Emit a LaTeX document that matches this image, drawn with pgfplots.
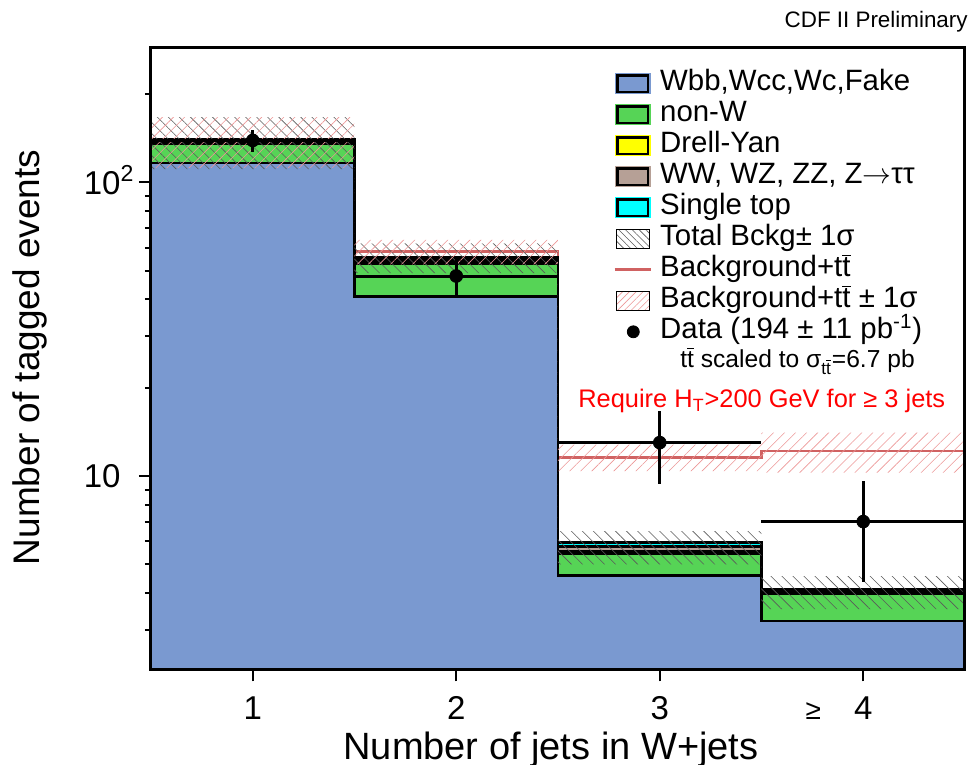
\documentclass[border=0pt]{standalone}
\usepackage{pgfplots}
\pgfplotsset{compat=1.18}
\usetikzlibrary{patterns.meta}
\usepackage{fontspec}
\setmainfont{Liberation Sans}
\definecolor{cBlue}{RGB}{122,153,208}
\definecolor{cGreen}{RGB}{86,212,86}
\definecolor{cYellow}{RGB}{255,255,0}
\definecolor{cBrown}{RGB}{182,160,150}
\definecolor{cCyan}{RGB}{0,255,255}
\definecolor{cRedLine}{RGB}{208,98,98}
\definecolor{cRedHatch}{RGB}{236,150,150}
\definecolor{cGrayHatch}{RGB}{90,90,90}
\newcommand{\tbar}{\ensuremath{\overline{\mbox{t}}}}
\pgfplotsset{
  boxleg/.style={legend image code/.code={
    \path[##1, draw=none] (-0.8pt,-5.3pt) rectangle (17.3pt,5.3pt);
    \draw[##1, line width=1.3pt] (0.6pt,-4.1pt) rectangle (15.9pt,4.1pt);}},
  hatchlegblack/.style={legend image code/.code={
    \path[pattern={Lines[angle=-45,distance=2.4pt,line width=0.3pt]}, pattern color=cGrayHatch] (0pt,-4.8pt) rectangle (16.5pt,4.8pt);
    \draw[black, line width=0.6pt] (0pt,-4.8pt) rectangle (16.5pt,4.8pt);}},
  hatchlegred/.style={legend image code/.code={
    \path[pattern={Lines[angle=45,distance=2.4pt,line width=0.3pt]}, pattern color=cRedHatch] (0pt,-4.8pt) rectangle (16.5pt,4.8pt);
    \draw[black, line width=0.6pt] (0pt,-4.8pt) rectangle (16.5pt,4.8pt);}},
  lineleg/.style={legend image code/.code={
    \draw[##1] (-0.8pt,0pt) -- (17.3pt,0pt);}},
  dotleg/.style={legend image code/.code={
    \draw[##1] plot coordinates {(8.5pt,0pt)};}},
}
\begin{document}
\begin{tikzpicture}
\begin{axis}[
  scale only axis, width=407pt, height=310.75pt,
  ymode=log, xmin=0.5, xmax=4.5, ymin=2.194, ymax=287,
  axis on top, axis line style={line width=1.5pt},
  tick align=outside, xtick pos=bottom, ytick pos=left,
  major tick length=6pt, minor tick length=3pt,
  tick style={black, line width=1pt},
  xtick={1,2,3,4},
  xticklabels={1,2,3,{\llap{{\fontsize{14}{14}\selectfont ≥}\hspace{16.5pt}}4}},
  ytick={10,100}, yticklabels={10,10\rlap{\textsuperscript{2}}},
  minor ytick={3,4,5,6,7,8,9,20,30,40,50,60,70,80,90,200},
  ticklabel style={font=\fontsize{16.5}{18}\selectfont},
  xticklabel style={anchor=north, inner sep=0pt, yshift=-7.5pt},
  yticklabel style={anchor=base east, inner sep=0pt, xshift=-9pt, yshift=-5.9pt},
  /pgf/number format/assume math mode=true,
  legend cell align=left,
  legend style={draw=none, fill=none, at={(axis description cs:0.5602,0.972)}, anchor=north west,
    font=\fontsize{14.7}{16}\selectfont, row sep=1.5pt, column sep=4pt,
    nodes={inner sep=0pt, text height=10.5pt, text depth=3.5pt}},
]
\addlegendimage{boxleg, fill=cBlue, draw=black}
\addlegendentry{Wbb,Wcc,Wc,Fake}
\addlegendimage{boxleg, fill=cGreen, draw=black}
\addlegendentry{non-W}
\addlegendimage{boxleg, fill=cYellow, draw=black}
\addlegendentry{Drell-Yan}
\addlegendimage{boxleg, fill=cBrown, draw=black}
\addlegendentry{WW, WZ, ZZ, Z\ensuremath{\rightarrow}ττ}
\addlegendimage{boxleg, fill=cCyan, draw=black}
\addlegendentry{Single top}
\addlegendimage{hatchlegblack}
\addlegendentry{Total Bckg± 1σ}
\addlegendimage{lineleg, cRedLine, line width=1.3pt}
\addlegendentry{Background+t\tbar}
\addlegendimage{hatchlegred}
\addlegendentry{Background+t\tbar\ ± 1σ}
\addlegendimage{dotleg, only marks, mark=*, mark size=3pt, black}
\addlegendentry{Data (194 ± 11 pb\textsuperscript{-1})}

% Background + ttbar (red line)
\addplot[cRedLine, line width=1.3pt, const plot, forget plot]
  coordinates {(0.5,140.8)(1.5,58.2)(2.5,11.55)(3.5,12.17)(4.5,12.17)};

% stacked backgrounds (cumulative)
\addplot[fill=cCyan, draw=black, line width=1.3pt, const plot, forget plot]
  coordinates {(0.5,1)(0.5,140.6)(1.5,55.5)(2.5,5.93)(3.5,4.11)(4.5,4.11)(4.5,1)} -- cycle;
\addplot[fill=cBrown, draw=black, line width=1.3pt, const plot, forget plot]
  coordinates {(0.5,1)(0.5,138.7)(1.5,54.4)(2.5,5.75)(3.5,4.06)(4.5,4.06)(4.5,1)} -- cycle;
\addplot[fill=cYellow, draw=black, line width=1.3pt, const plot, forget plot]
  coordinates {(0.5,1)(0.5,136.8)(1.5,53.4)(2.5,5.55)(3.5,4.01)(4.5,4.01)(4.5,1)} -- cycle;
\addplot[fill=cGreen, draw=black, line width=1.3pt, const plot, forget plot]
  coordinates {(0.5,1)(0.5,135.1)(1.5,52.7)(2.5,5.45)(3.5,3.98)(4.5,3.98)(4.5,1)} -- cycle;
\addplot[fill=cBlue, draw=black, line width=1.3pt, const plot, forget plot]
  coordinates {(0.5,1)(0.5,116.4)(1.5,40.9)(2.5,4.59)(3.5,3.21)(4.5,3.21)(4.5,1)} -- cycle;

% Total background +- 1 sigma
\addplot[draw=none, pattern={Lines[angle=-45,distance=3.9pt,line width=0.3pt]}, pattern color=cGrayHatch, forget plot]
  coordinates {(0.5,167)(1.5,167)(1.5,62)(2.5,62)(2.5,6.49)(3.5,6.49)(3.5,4.56)(4.5,4.56)
               (4.5,3.52)(3.5,3.52)(3.5,5.0)(2.5,5.0)(2.5,49.1)(1.5,49.1)(1.5,111)(0.5,111)} -- cycle;
% Background + ttbar +- 1 sigma
\addplot[draw=none, pattern={Lines[angle=45,distance=3.9pt,line width=0.3pt]}, pattern color=cRedHatch, forget plot]
  coordinates {(0.5,167)(1.5,167)(1.5,63.8)(2.5,63.8)(2.5,12.8)(3.5,12.8)(3.5,14.06)(4.5,14.06)
               (4.5,10.27)(3.5,10.27)(3.5,10.4)(2.5,10.4)(2.5,52.6)(1.5,52.6)(1.5,112)(0.5,112)} -- cycle;

% Data
\addplot[only marks, mark=*, mark size=3.2pt, black, forget plot,
  error bars/.cd, x dir=both, x explicit, y dir=both, y explicit, error mark=none,
  error bar style={line width=1.5pt, black}]
  coordinates {(1,139) +- (0.5,11.8) (2,48) +- (0.5,6.9) (3,13) +- (0.5,3.6) (4,7) +- (0.5,2.65)};
\end{axis}
\node[anchor=east, inner sep=0pt, font=\fontsize{11.2}{12}\selectfont] at (408.5pt,323.75pt) {CDF II Preliminary};
\node[anchor=west, inner sep=0pt, font=\fontsize{12.3}{13}\selectfont] at (264.5pt,154.25pt) {t\tbar\ scaled to σ\textsubscript{t\tbar}=6.7 pb};
\node[anchor=west, inner sep=0pt, text=red, font=\fontsize{12.7}{14}\selectfont] at (213.5pt,134.25pt) {Require H\textsubscript{T}>200 GeV for ≥ 3 jets};
\node[rotate=90, font=\fontsize{18.5}{20}\selectfont] at (-60.5pt,156pt) {Number of tagged events};
\node[font=\fontsize{19}{20}\selectfont] at (200pt,-40.3pt) {Number of jets in W+jets};
\pgfresetboundingbox
\path[use as bounding box] (-75.5pt,-47.75pt) rectangle (412pt,334.75pt);
\end{tikzpicture}
\end{document}
